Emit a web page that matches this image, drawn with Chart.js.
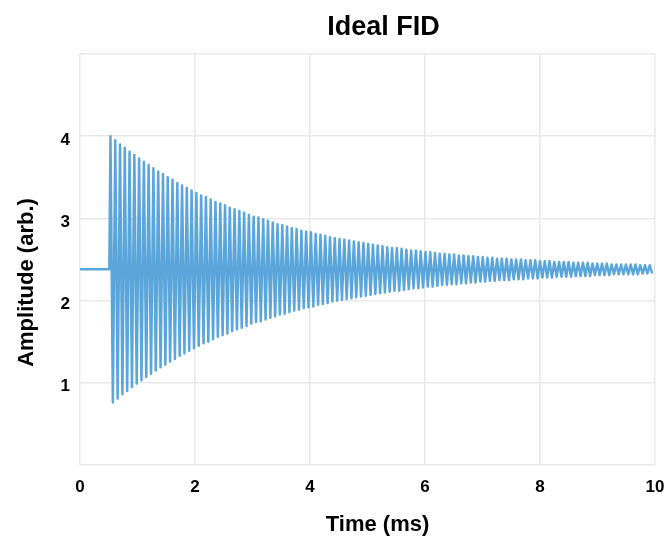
<!DOCTYPE html>
<html lang="en">
<head>
    <meta charset="UTF-8">
    <title>Ideal FID</title>
    <script src="https://cdn.jsdelivr.net/npm/chart.js"></script>
    <style>
        * { margin: 0; padding: 0; box-sizing: border-box; }
        body { background: #fff; font-family: 'Liberation Sans', Arial, sans-serif; }
        .chart-container { width: 668px; height: 540px; position: relative; }
    </style>
</head>
<body>
    <div class="chart-container">
        <canvas id="fidChart"></canvas>
    </div>

    <script>
        // signal
        const baseline = 2.38;       // flat level before the pulse
        const onset = 0.53;          // ms, first peak
        const period = 0.083;        // ms, one oscillation
        // peak amplitude (above / below baseline) of each cycle
        const cycleAmps = [
            1.62, 1.57, 1.52, 1.48, 1.43, 1.39, 1.35, 1.31, 1.27, 1.23,
            1.19, 1.16, 1.12, 1.09, 1.05, 1.02, 0.99, 0.96, 0.93, 0.90,
            0.88, 0.85, 0.82, 0.80, 0.78, 0.75, 0.73, 0.71, 0.69, 0.66,
            0.64, 0.63, 0.61, 0.59, 0.57, 0.55, 0.54, 0.52, 0.50, 0.49,
            0.47, 0.46, 0.45, 0.43, 0.42, 0.41, 0.39, 0.38, 0.37, 0.36,
            0.35, 0.34, 0.33, 0.32, 0.31, 0.30, 0.29, 0.28, 0.27, 0.26,
            0.26, 0.25, 0.24, 0.23, 0.23, 0.22, 0.21, 0.21, 0.20, 0.19,
            0.19, 0.18, 0.18, 0.17, 0.17, 0.16, 0.16, 0.15, 0.15, 0.14,
            0.14, 0.13, 0.13, 0.13, 0.12, 0.12, 0.12, 0.11, 0.11, 0.11,
            0.10, 0.10, 0.10, 0.09, 0.09, 0.09, 0.09, 0.08, 0.08, 0.08,
            0.08, 0.07, 0.07, 0.07, 0.07, 0.06, 0.06, 0.06, 0.06, 0.06,
            0.06, 0.05, 0.05, 0.05
        ];
        const xTicks = [0, 2, 4, 6, 8, 10];
        const yTicks = [1, 2, 3, 4];
        const chartTitle = 'Ideal FID';
        const xTitle = 'Time (ms)';
        const yTitle = 'Amplitude (arb.)';

        // zig-zag between the read peaks and troughs
        const points = [{ x: 0, y: baseline }, { x: onset - 0.02, y: baseline }];
        cycleAmps.forEach((a, k) => {
            const t = onset + k * period;
            points.push({ x: t, y: baseline + a });
            points.push({ x: t + period / 2, y: baseline - a });
        });

        const font = "'Liberation Sans', Arial, sans-serif";

        // titles sit a little off the plot centre in the original, so draw them by hand
        const titlePlugin = {
            id: 'fidTitles',
            afterDraw(chart) {
                const ctx = chart.ctx;
                const area = chart.chartArea;
                const mid = (area.left + area.right) / 2;
                ctx.save();
                ctx.fillStyle = '#000';
                ctx.textAlign = 'center';
                ctx.textBaseline = 'middle';
                ctx.font = `bold 27px ${font}`;
                ctx.fillText(chartTitle, mid + 16, 28);
                ctx.font = `bold 22px ${font}`;
                ctx.fillText(xTitle, mid + 10, 525);
                ctx.translate(27, (area.top + area.bottom) / 2 + 23);
                ctx.rotate(-Math.PI / 2);
                ctx.fillText(yTitle, 0, 0);
                ctx.restore();
            }
        };

        new Chart(document.getElementById('fidChart'), {
            type: 'line',
            data: {
                datasets: [{
                    data: points,
                    borderColor: '#5aa6da',
                    borderWidth: 2.5,
                    borderJoinStyle: 'round',
                    pointRadius: 0,
                    tension: 0,
                    fill: false
                }]
            },
            options: {
                responsive: true,
                maintainAspectRatio: false,
                animation: false,
                layout: { padding: { top: 54, right: 13, left: 0, bottom: 0 } },
                plugins: {
                    legend: { display: false },
                    tooltip: { enabled: false }
                },
                scales: {
                    x: {
                        type: 'linear',
                        min: 0,
                        max: 10,
                        afterBuildTicks: s => { s.ticks = xTicks.map(v => ({ value: v })); },
                        afterFit: s => { s.height = 75; s.paddingRight = 13; },
                        grid: { color: '#e8e8e8', lineWidth: 1.5, drawTicks: false },
                        border: { display: false },
                        ticks: {
                            padding: 12,
                            color: '#000',
                            font: { family: font, size: 17, weight: 'bold' },
                            maxRotation: 0
                        }
                    },
                    y: {
                        min: 0,
                        max: 5,
                        afterBuildTicks: s => { s.ticks = [0, ...yTicks, 5].map(v => ({ value: v })); },
                        afterFit: s => { s.width = 80; },
                        grid: { color: '#e8e8e8', lineWidth: 1.5, drawTicks: false },
                        border: { display: false },
                        ticks: {
                            padding: 10,
                            labelOffset: 4,
                            color: '#000',
                            font: { family: font, size: 17, weight: 'bold' },
                            callback: v => yTicks.includes(v) ? v : ''
                        }
                    }
                }
            },
            plugins: [titlePlugin]
        });
    </script>
</body>
</html>
